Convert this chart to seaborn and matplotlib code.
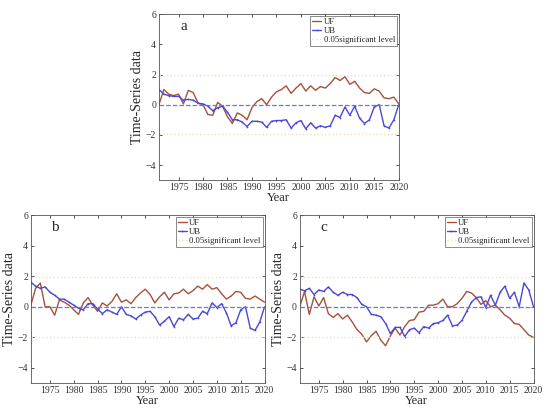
import matplotlib
matplotlib.use("Agg")
import matplotlib.pyplot as plt
import seaborn as sns
import numpy as np
import pandas as pd

# Years of the Mann-Kendall test series
years = list(range(1971, 2021))

# Panel a
uf_a = [0.0, 1.0, 0.7, 0.6, 0.7, 0.05, 0.95, 0.8, 0.1, 0.0,
        -0.65, -0.7, 0.15, -0.1, -0.8, -1.25, -0.55, -0.7, -1.0, -0.2,
        0.2, 0.4, 0.0, 0.5, 0.85, 1.0, 1.25, 0.75, 1.1, 1.4,
        0.9, 1.25, 0.95, 1.2, 1.1, 1.4, 1.8, 1.6, 1.85, 1.35,
        1.55, 1.1, 0.8, 0.75, 1.05, 0.9, 0.45, 0.4, 0.5, 0.05]
ub_a = [1.0, 0.7, 0.6, 0.55, 0.55, 0.3, 0.35, 0.3, 0.1, 0.05,
        -0.1, -0.4, -0.2, -0.1, -0.5, -1.0, -1.0, -1.15, -1.45, -1.1,
        -1.1, -1.15, -1.5, -1.1, -1.05, -1.05, -1.0, -1.55, -1.2, -1.05,
        -1.6, -1.2, -1.55, -1.4, -1.5, -1.4, -0.7, -0.85, -0.15, -0.7,
        -0.1, -0.9, -1.25, -1.0, -0.15, 0.0, -1.4, -1.55, -1.0, 0.0]

# Panel b
uf_b = [0.1, 1.2, 1.55, 0.0, 0.0, -0.55, 0.45, 0.3, 0.1, -0.2,
        -0.5, 0.25, 0.6, 0.1, -0.3, 0.25, 0.05, 0.35, 0.85, 0.3,
        0.45, 0.2, 0.6, 0.9, 1.15, 0.8, 0.25, 0.65, 0.95, 0.45,
        0.85, 0.9, 1.15, 0.85, 1.05, 1.35, 1.15, 1.45, 1.15, 1.25,
        0.85, 0.5, 0.7, 1.0, 0.95, 0.55, 0.5, 0.7, 0.5, 0.3]
ub_b = [1.6, 1.35, 1.2, 1.3, 0.95, 0.75, 0.5, 0.5, 0.3, 0.1,
        -0.1, -0.2, 0.2, 0.2, -0.15, -0.45, -0.2, -0.35, -0.5, 0.0,
        -0.5, -0.6, -0.8, -0.55, -0.35, -0.3, -0.65, -1.2, -0.95, -0.65,
        -1.3, -0.75, -0.85, -0.5, -0.8, -0.75, -0.3, -0.45, 0.25, -0.05,
        0.2, -0.4, -1.25, -1.05, -0.2, 0.0, -1.4, -1.55, -1.0, 0.0]

# Panel c
uf_c = [0.0, 1.0, -0.5, 0.65, 0.05, 0.6, -0.45, -0.7, -0.45, -0.8,
        -0.55, -1.0, -1.5, -1.8, -2.3, -1.9, -1.6, -2.2, -2.55, -1.9,
        -1.4, -1.85, -1.3, -0.9, -0.85, -0.35, -0.3, 0.1, 0.1, 0.2,
        0.5, 0.0, 0.0, 0.2, 0.55, 1.0, 0.9, 0.6, 0.15, 0.4,
        0.0, 0.1, -0.2, -0.55, -0.75, -1.1, -1.15, -1.5, -1.85, -2.0]
ub_c = [1.15, 1.05, 1.2, 0.8, 1.1, 1.0, 1.3, 0.95, 0.75, 0.95,
        0.8, 0.8, 0.6, 0.15, 0.0, -0.5, -0.55, -0.65, -1.1, -1.75,
        -1.35, -1.35, -1.95, -1.5, -1.4, -1.7, -1.3, -1.4, -1.1, -1.05,
        -0.9, -0.55, -1.25, -1.2, -0.9, -0.3, 0.3, 0.6, 0.65, -0.05,
        0.75, 0.1, 0.95, 1.35, 0.55, 0.95, 0.0, 1.55, 1.1, 0.0]

panels = [("a", uf_a, ub_a), ("b", uf_b, ub_b), ("c", uf_c, ub_c)]
sig_level = 1.96

sns.set_style("ticks")
plt.rcParams['font.family'] = ['Liberation Serif', 'DejaVu Serif']
plt.rcParams['xtick.direction'] = 'in'
plt.rcParams['ytick.direction'] = 'in'

fig = plt.figure(figsize=(5.5, 4.16), dpi=100)
positions = [[0.289, 0.567, 0.436, 0.399],
             [0.056, 0.079, 0.425, 0.404],
             [0.545, 0.079, 0.425, 0.404]]

for pos, (name, uf, ub) in zip(positions, panels):
    ax = fig.add_axes(pos)
    df = pd.DataFrame({"Year": years, "UF": uf, "UB": ub})
    sns.lineplot(data=df, x="Year", y="UF", ax=ax, color="#A8503A",
                 linewidth=1.0, label="UF")
    sns.lineplot(data=df, x="Year", y="UB", ax=ax, color="#4A48D6",
                 linewidth=1.0, marker=".", markersize=2.5,
                 markeredgewidth=0, label="UB")
    ax.axhline(sig_level, color="#EFE2B8", linestyle=":", linewidth=1.0,
               label="0.05significant level")
    ax.axhline(-sig_level, color="#EFE2B8", linestyle=":", linewidth=1.0)
    ax.axhline(0, color="#5A80DA", linestyle="--", linewidth=0.9)

    ax.set_xlim(years[0], years[-1])
    ax.set_ylim(-5, 6)
    ax.set_xticks(range(1975, 2021, 5))
    ax.set_yticks([-4, -2, 0, 2, 4, 6])
    ax.tick_params(labelsize=7, length=2.5, width=0.6, colors="#333333",
                   top=True, right=True, pad=2)
    for sp in ax.spines.values():
        sp.set_linewidth(0.6)
        sp.set_color("#555555")
        sp.set_visible(True)
    ax.set_xlabel("Year", fontsize=9, labelpad=0)
    ax.set_ylabel("Time-Series data", fontsize=10, labelpad=1)
    ax.text(1976, 5.2, name, fontsize=11, va="center", ha="center")
    leg = ax.legend(loc="upper right", fontsize=6.2, frameon=True,
                    fancybox=False, edgecolor="#555555", handlelength=1.0,
                    handletextpad=0.3, borderpad=0.25, labelspacing=0.1,
                    borderaxespad=0.2)
    leg.get_frame().set_linewidth(0.6)

plt.savefig("out.png", dpi=100)
